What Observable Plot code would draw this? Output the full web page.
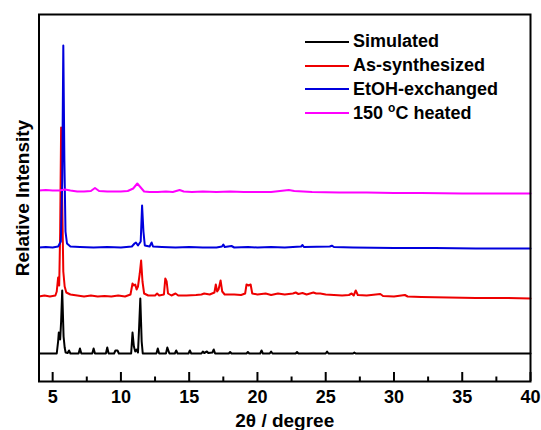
<!DOCTYPE html>
<html>
<head>
<meta charset="utf-8">
<script src="https://cdn.jsdelivr.net/npm/d3@7"></script>
<script src="https://cdn.jsdelivr.net/npm/@observablehq/plot@0.6"></script>
<style>
  html, body { margin: 0; padding: 0; background: #fff; }
  #wrap { position: relative; width: 541px; height: 430px; font-family: "Liberation Sans", Arial, sans-serif; }
  .legend { position: absolute; left: 305px; top: 30px; font-weight: bold; font-size: 18px; color: #000; }
  .legend .row { display: flex; align-items: center; height: 23.7px; }
  .legend .sw { width: 44px; height: 0; border-top: 2px solid; margin-right: 4px; }
</style>
</head>
<body>
<div id="wrap"></div>
<script>
// Series names and colours
const seriesNames = ["Simulated", "As-synthesized", "EtOH-exchanged", "150 °C heated"];
const seriesColors = ["#000000", "#ee0000", "#0000dd", "#ff00ff"];

// x ticks
const majorTicks = [5, 10, 15, 20, 25, 30, 35, 40];
const minorTicks = [7.5, 12.5, 17.5, 22.5, 27.5, 32.5, 37.5];

// [2θ, relative intensity (stacked, arbitrary units)]
const simulated = [[4,28],[5.3,28],[5.4,40],[5.45,49],[5.55,42],[5.62,60],[5.7,91],[5.8,45],[5.88,34],[5.95,29],[6.1,28.5],[6.2,31],[6.3,28],[6.9,28],[7.0,33],[7.1,28],[7.9,28],[8.0,33],[8.1,28],[8.9,28],[9.0,34],[9.1,28],[9.5,28],[9.6,31],[9.75,31],[9.85,28],[10.75,28],[10.85,49],[10.95,35],[11.05,30],[11.15,32],[11.25,29],[11.32,50],[11.42,83],[11.52,40],[11.6,28],[12.6,28],[12.7,33],[12.8,28],[13.3,28],[13.4,34],[13.5,30],[13.55,28],[13.95,28],[14.05,31],[14.15,28],[14.95,28],[15.05,31],[15.15,28],[15.9,28],[16.0,30],[16.1,28.5],[16.3,30],[16.4,28.5],[16.7,29],[16.8,32],[16.9,28],[17.9,28],[18.0,29.5],[18.1,28],[19.2,28],[19.3,29.5],[19.4,28],[20.2,28],[20.3,31],[20.4,28],[20.9,28],[21.0,30],[21.1,28],[22.8,28],[22.9,29.5],[23.0,28],[25.0,28],[25.1,30],[25.2,28],[27.0,28],[27.1,29],[27.2,28],[40,28]];

const asSynthesized = [[4,85],[4.4,86],[4.8,85],[5.2,86],[5.3,90],[5.4,104],[5.48,96],[5.55,150],[5.62,254],[5.7,180],[5.78,110],[5.88,95],[6.0,89],[6.3,87],[6.8,86],[7.3,85],[7.8,86],[8.3,85],[8.8,85.5],[9.3,85],[9.8,86],[10.3,85],[10.7,87],[10.85,98],[10.95,96],[11.05,97],[11.15,92],[11.25,95],[11.38,108],[11.48,121],[11.58,100],[11.7,88],[12.0,86],[12.5,86],[12.65,88],[12.8,86],[13.15,87],[13.25,103],[13.35,100],[13.45,88],[13.7,86],[14.0,88],[14.2,86],[14.8,86],[15.5,86.5],[15.9,87],[16.1,88],[16.5,87],[16.85,89],[16.95,97],[17.05,90],[17.15,92],[17.3,101],[17.42,90],[17.6,87],[18.3,87],[18.8,86.5],[19.1,88],[19.2,97],[19.35,96],[19.5,97],[19.62,88],[20.0,87],[20.6,88],[21.0,86.5],[21.5,88],[22.0,87],[22.6,88],[22.8,89],[23.0,87.5],[23.3,88.5],[23.6,87],[24.1,89],[24.3,88],[24.6,88],[25,87],[25.6,86.5],[26.2,86],[26.7,86.5],[26.9,88],[27.05,86],[27.2,91],[27.35,86.5],[28,86],[29.0,87.5],[29.2,85.5],[30,85],[30.8,86.5],[31,85],[32,84.5],[34,84],[36,83.5],[38,83.5],[40,83]];

const etohExchanged = [[4,134],[4.5,134.5],[5,134],[5.4,135],[5.6,140],[5.7,200],[5.78,336],[5.86,220],[5.94,150],[6.05,138],[6.3,135],[7,134.5],[8,134],[9,134.5],[10,134],[10.8,135],[11.0,138],[11.1,139],[11.25,136],[11.45,140],[11.55,176],[11.65,150],[11.75,136],[12.1,135],[12.25,139],[12.35,135],[13,134.5],[14,134],[15,134.5],[16,134],[17,134],[17.4,135],[17.5,137],[17.6,134.5],[18.1,135.5],[18.3,134],[19.3,134.5],[20,134],[21,134.5],[22,134],[23.2,135],[23.3,136.5],[23.4,134.5],[25.3,135],[25.45,135.8],[25.6,134.5],[27,134],[30,133.5],[33,133.5],[36,133],[40,133]];

const heated150 = [[4,191],[4.5,191.5],[5,191],[5.5,191],[5.9,192],[6.3,191],[6.8,190],[7.3,190],[7.8,190.5],[8.1,193.5],[8.4,190.5],[9,190],[9.5,190],[10.0,190],[10.5,190.5],[10.9,193],[11.2,198],[11.45,194],[11.7,190],[12.1,189.5],[12.7,189.5],[13.3,190],[13.8,189.5],[14.3,191.5],[14.6,190],[15.2,189.5],[16,190],[17,189.5],[18,190],[19,189.5],[20,189.5],[21,189.5],[22.3,191.5],[22.7,190.5],[24,189.5],[26,189],[28,189],[30,188.5],[32,188.5],[35,188],[38,188],[40,188]];

const allSeries = [simulated, asSynthesized, etohExchanged, heated150];
const rows = allSeries.flatMap((s, i) => s.map(([x, y]) => ({x, y, series: seriesNames[i]})));

const H = 430, MT = 14, MB = 49;
const innerH = H - MT - MB;

const chart = Plot.plot({
  width: 541,
  height: H,
  marginLeft: 38.5,
  marginRight: 11,
  marginTop: MT,
  marginBottom: MB,
  style: {fontFamily: "'Liberation Sans', Arial, sans-serif", background: "#fff", color: "#000"},
  x: {domain: [4, 40]},
  y: {domain: [0, 367]},
  color: {domain: seriesNames, range: seriesColors},
  marks: [
    Plot.line(rows, {x: "x", y: "y", z: "series", stroke: "series", strokeWidth: 2}),
    // inward ticks
    Plot.tickX(majorTicks, {x: d => d, stroke: "#000", strokeWidth: 2, insetTop: innerH - 9}),
    Plot.tickX(minorTicks, {x: d => d, stroke: "#000", strokeWidth: 2, insetTop: innerH - 4.5}),
    Plot.axisX(majorTicks, {tickSize: 0, tickPadding: 9, fontSize: 18, fontWeight: "bold", label: null}),
    Plot.axisX({ticks: [], label: "2θ / degree", labelAnchor: "center", labelArrow: "none", labelOffset: 45, fontSize: 19, fontWeight: "bold"}),
    Plot.axisY({ticks: [], label: "Relative Intensity", labelAnchor: "center", labelArrow: "none", labelOffset: 24, fontSize: 19, fontWeight: "bold"}),
    Plot.frame({strokeWidth: 2})
  ]
});

const wrap = document.getElementById("wrap");
wrap.appendChild(chart);

const legend = document.createElement("div");
legend.className = "legend";
seriesNames.forEach((name, i) => {
  const row = document.createElement("div");
  row.className = "row";
  const sw = document.createElement("div");
  sw.className = "sw";
  sw.style.borderColor = seriesColors[i];
  const label = document.createElement("span");
  if (name.includes("°C")) {
    label.innerHTML = name.replace("°C", "<sup style='font-size:12px'>o</sup>C");
  } else {
    label.textContent = name;
  }
  row.appendChild(sw);
  row.appendChild(label);
  legend.appendChild(row);
});
wrap.appendChild(legend);
</script>
</body>
</html>
